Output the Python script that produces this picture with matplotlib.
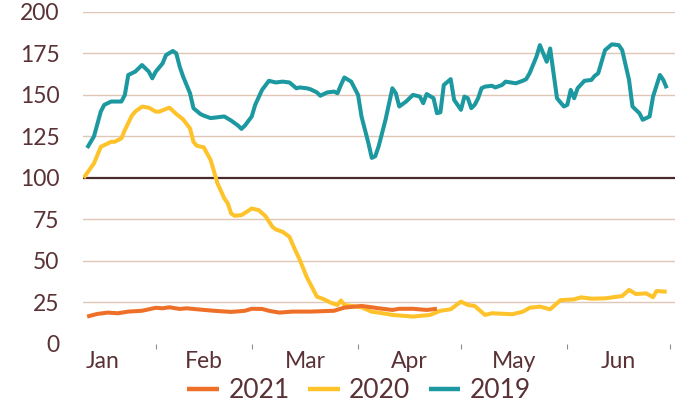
import matplotlib
matplotlib.use("Agg")
import matplotlib.pyplot as plt

# ---- data (day of year, 0 = 1 Jan) ----
days_2019 = [11, 13, 15, 16, 18, 20, 21, 22, 23, 25, 26, 27, 29, 30, 31, 33, 34, 36, 37, 38,
             39, 41, 42, 44, 45, 47, 49, 51, 53, 55, 56, 57, 59, 60, 62, 64, 66, 68, 70, 72,
             73, 75, 76, 78, 79, 81, 83, 84, 85, 86, 88, 90, 91, 93, 94, 95, 96, 98, 100, 101,
             102, 104, 106, 108, 109, 110, 112, 113, 114, 115, 117, 118, 120, 121, 122, 123, 124, 125, 126, 127,
             129, 130, 132, 133, 136, 138, 139, 140, 142, 143, 145, 146, 147, 148, 150, 151, 152, 153, 154, 156,
             158, 159, 160, 162, 164, 166, 167, 169, 170, 172, 173, 175, 176, 178, 179, 180]
vals_2019 = [118, 125, 140, 144, 146, 146, 146, 150, 162, 164, 166, 168, 164, 160, 164, 169, 174, 176.5, 175, 167,
             161, 151, 142, 138.5, 137.5, 136, 136.5, 137, 134.5, 131.5, 129.5, 131.5, 137, 144, 153, 158.5, 157.5, 158, 157.5, 154,
             154.5, 154, 153.5, 151.5, 149.5, 151.5, 152, 151, 156, 160.5, 158, 150, 137, 121, 112, 113, 119, 135, 154, 151,
             143, 146, 150, 149, 145, 150.5, 148, 139, 139.5, 156, 159.5, 147, 141, 149, 148, 142, 144, 148, 154, 155,
             155.5, 154.5, 156, 158, 157, 158.5, 159.5, 163, 173, 180, 170, 178, 163, 148, 143, 144, 153, 148, 154, 158.5,
             159, 161.5, 163, 177, 180.5, 180, 177, 159, 143, 139, 135, 137, 149, 162, 159, 154]

days_2020 = [10, 13, 15, 18, 19, 21, 22, 24, 25, 27, 29, 31, 32, 35, 37, 39, 41, 42, 43, 45,
             47, 48, 49, 51, 52, 53, 54, 56, 58, 59, 61, 63, 65, 66, 68, 70, 71, 73, 75, 77,
             78, 80, 82, 84, 85, 86, 91, 94, 96, 100, 106, 111, 114, 117, 120, 122, 124, 127, 129, 135,
             138, 140, 143, 146, 149, 153, 155, 158, 162, 167, 169, 171, 174, 176, 177, 180]
vals_2020 = [100, 108.7, 118.7, 121.7, 121.7, 123.8, 128.8, 137.3, 139.9, 142.9, 142.3, 139.9, 139.9, 142.3, 138.5, 135.2, 129.8, 121.7, 119.3, 118.4,
             110.8, 103.8, 96.7, 87.6, 84.6, 78.5, 77.1, 77.5, 80.1, 81.5, 80.5, 76.9, 70.5, 68.9, 67.4, 64.4, 59.5, 50.5, 40.3, 32.3,
             28.3, 26.8, 24.7, 23.3, 26.0, 23.3, 21.9, 19.2, 18.7, 17.3, 16.3, 17.3, 19.8, 20.7, 25.3, 23.3, 22.7, 17.3, 18.3, 17.7,
             19.2, 21.6, 22.3, 20.7, 26.2, 26.7, 27.9, 27.1, 27.3, 28.7, 32.4, 29.9, 30.3, 28.0, 31.7, 31.3]

days_2021 = [11, 14, 17, 20, 23, 27, 31, 33, 35, 38, 40, 43, 48, 53, 57, 59, 62, 64, 67, 71,
             76, 83, 86, 91, 94, 96, 100, 102, 106, 110, 113]
vals_2021 = [16.3, 17.9, 18.7, 18.3, 19.3, 19.8, 21.6, 21.3, 21.9, 20.9, 21.3, 20.7, 19.8, 19.1, 19.8, 21.0, 20.9, 19.8, 18.7, 19.3,
             19.3, 19.8, 21.7, 22.7, 21.9, 21.3, 20.3, 21.0, 21.0, 20.3, 21.0]

month_names = ["Jan", "Feb", "Mar", "Apr", "May", "Jun"]
month_starts = [0, 31, 59, 90, 120, 151, 181]
y_ticks = [0, 25, 50, 75, 100, 125, 150, 175, 200]

# ---- style ----
TEXT = "#5a3236"
GRID = "#e0c6b4"
BASE = "#4a2a2a"
C2019 = "#1c98a0"
C2020 = "#fec22b"
C2021 = "#ee7028"

plt.rcParams["font.family"] = ["Lato", "DejaVu Sans"]

fig = plt.figure(figsize=(6.75, 4.04), dpi=100)
ax = fig.add_axes([83 / 675, 1 - 343.6 / 404, 592 / 675, (343.6 - 12) / 404])

for t in y_ticks:
    if t == 0:
        continue
    if t == 100:
        ax.axhline(t, color=BASE, lw=1.6, zorder=1)
    else:
        ax.axhline(t, color=GRID, lw=1.0, zorder=1)

ax.plot(days_2021, vals_2021, color=C2021, lw=2.9, label="2021", zorder=4, solid_joinstyle="round", solid_capstyle="butt")
ax.plot(days_2020, vals_2020, color=C2020, lw=2.9, label="2020", zorder=3, solid_joinstyle="round", solid_capstyle="butt")
ax.plot(days_2019, vals_2019, color=C2019, lw=2.9, label="2019", zorder=2, solid_joinstyle="round", solid_capstyle="butt")

ax.set_xlim(9.8, 182.4)
ax.set_ylim(0, 200)

ax.set_yticks(y_ticks)
ax.tick_params(axis="y", length=0, pad=17, labelsize=16.5, labelcolor=TEXT)

ax.set_xticks(month_starts[1:])
ax.set_xticklabels([""] * len(month_starts[1:]))
mids = [(month_starts[i] + month_starts[i + 1]) / 2 for i in range(len(month_names))]
ax.set_xticks(mids, minor=True)
ax.set_xticklabels(month_names, minor=True)
ax.tick_params(axis="x", which="major", length=3.5, width=0.8, color="#9a8a86", direction="out")
ax.tick_params(axis="x", which="minor", length=0, pad=5, labelsize=16.5, labelcolor=TEXT)

for s in ax.spines.values():
    s.set_visible(False)

leg = fig.legend(loc="center", bbox_to_anchor=(359 / 675, 1 - 391 / 404), ncol=3, frameon=False,
                 fontsize=19, handlelength=1.2, handletextpad=0.35, columnspacing=0.7, labelcolor=TEXT)
for h in leg.legend_handles:
    h.set_linewidth(3.2)

fig.savefig("out.png", dpi=100)
